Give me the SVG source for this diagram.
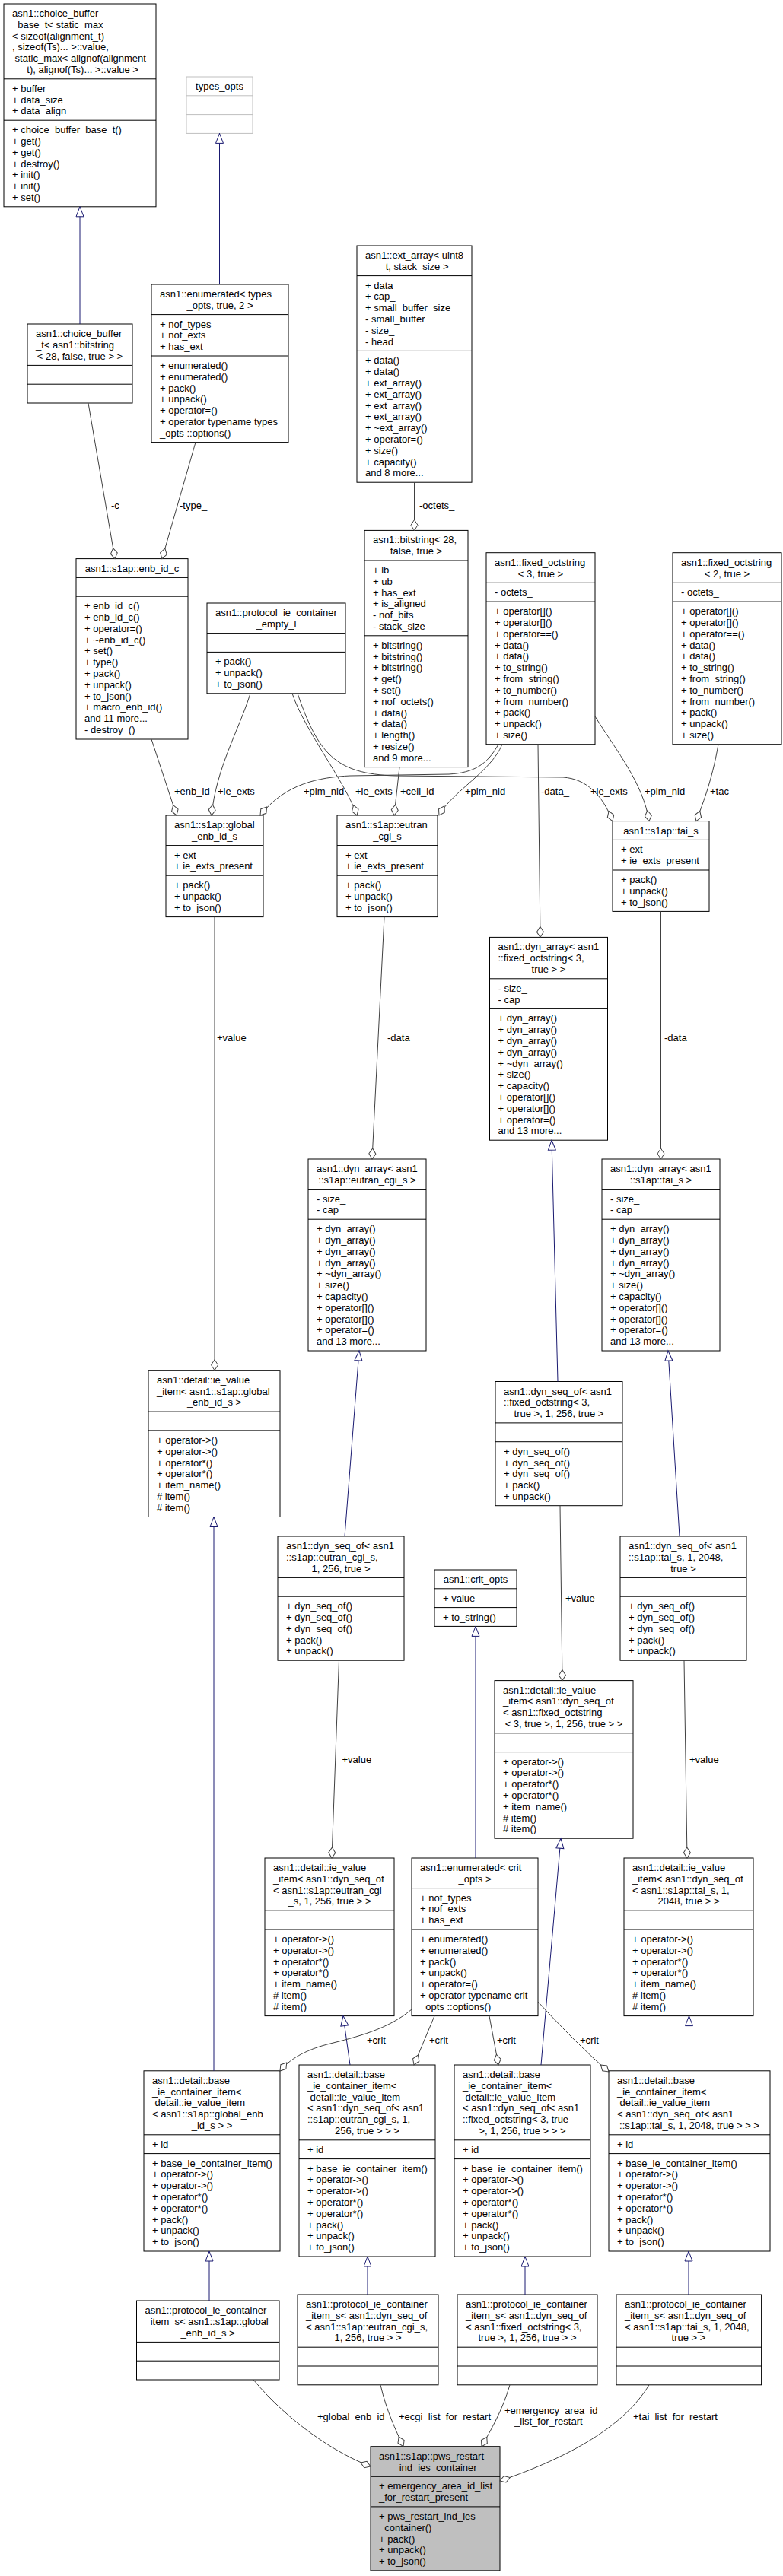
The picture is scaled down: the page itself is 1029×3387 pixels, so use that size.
<svg xmlns="http://www.w3.org/2000/svg" width="1029" height="3387" viewBox="0 0 1029 3387">
<style>
.b{fill:#fff;stroke:#000;stroke-width:1}
.g{fill:#bfbfbf;stroke:#000;stroke-width:1}
.s{fill:none;stroke:#000;stroke-width:1}
.lt{fill:#fff;stroke:#bfbfbf;stroke-width:1}
.ls{fill:none;stroke:#bfbfbf;stroke-width:1}
text{font-family:"Liberation Sans",Arial,Helvetica,sans-serif;font-size:13px;fill:#000}
.c{text-anchor:middle}
.e{fill:none;stroke:#404040;stroke-width:1;marker-end:url(#dia)}
.i{fill:none;stroke:#191970;stroke-width:1;marker-end:url(#tri)}
</style>
<defs>
<marker id="dia" markerUnits="userSpaceOnUse" markerWidth="18" markerHeight="12" refX="16" refY="6" orient="auto" viewBox="0 0 18 12"><path d="M2,6 L9,1.5 L16,6 L9,10.5 Z" fill="#fff" stroke="#404040" stroke-width="1"/></marker>
<marker id="tri" markerUnits="userSpaceOnUse" markerWidth="17" markerHeight="14" refX="15" refY="7" orient="auto" viewBox="0 0 17 14"><path d="M2,2 L15,7 L2,12 Z" fill="#fff" stroke="#191970" stroke-width="1"/></marker>
</defs>
<rect x="0" y="0" width="1029" height="3387" fill="#fff"/>
<g id="nodes">
<g id="choice_buffer_base">
<rect class="b" x="5" y="5" width="200" height="266.8"/>
<path class="s" d="M5,103.8H205M5,158.2H205"/>
<text x="16" y="22">asn1::choice_buffer<tspan x="16" dy="14.8">_base_t&lt; static_max</tspan><tspan x="16" dy="14.8">&lt; sizeof(alignment_t)</tspan><tspan x="16" dy="14.8">, sizeof(Ts)... &gt;::value,</tspan><tspan x="19.6" dy="14.8">static_max&lt; alignof(alignment</tspan></text>
<text class="c" x="105" y="96">_t), alignof(Ts)... &gt;::value &gt;</text>
<text x="16" y="120.8">+ buffer<tspan x="16" dy="14.8">+ data_size</tspan><tspan x="16" dy="14.8">+ data_align</tspan></text>
<text x="16" y="175.2">+ choice_buffer_base_t()<tspan x="16" dy="14.8">+ get()</tspan><tspan x="16" dy="14.8">+ get()</tspan><tspan x="16" dy="14.8">+ destroy()</tspan><tspan x="16" dy="14.8">+ init()</tspan><tspan x="16" dy="14.8">+ init()</tspan><tspan x="16" dy="14.8">+ set()</tspan></text>
</g>
<g id="types_opts">
<rect class="lt" x="245" y="101" width="87" height="74.4"/>
<path class="ls" d="M245,125.8H332M245,150.6H332"/>
<text class="c" x="288.5" y="118">types_opts</text>
</g>
<g id="enumerated_types_opts">
<rect class="b" x="199" y="374" width="180" height="207.6"/>
<path class="s" d="M199,413.6H379M199,468H379"/>
<text x="210" y="391">asn1::enumerated&lt; types</text>
<text class="c" x="289" y="405.8">_opts, true, 2 &gt;</text>
<text x="210" y="430.6">+ nof_types<tspan x="210" dy="14.8">+ nof_exts</tspan><tspan x="210" dy="14.8">+ has_ext</tspan></text>
<text x="210" y="485">+ enumerated()<tspan x="210" dy="14.8">+ enumerated()</tspan><tspan x="210" dy="14.8">+ pack()</tspan><tspan x="210" dy="14.8">+ unpack()</tspan><tspan x="210" dy="14.8">+ operator=()</tspan><tspan x="210" dy="14.8">+ operator typename types</tspan><tspan x="210" dy="14.8">_opts ::options()</tspan></text>
</g>
<g id="choice_buffer_t">
<rect class="b" x="36" y="426" width="138" height="104"/>
<path class="s" d="M36,480.4H174M36,505.2H174"/>
<text x="47" y="443">asn1::choice_buffer<tspan x="47" dy="14.8">_t&lt; asn1::bitstring</tspan></text>
<text class="c" x="105" y="472.6">&lt; 28, false, true &gt; &gt;</text>
</g>
<g id="ext_array">
<rect class="b" x="469" y="323" width="151" height="311.2"/>
<path class="s" d="M469,362.6H620M469,461.4H620"/>
<text x="480" y="340">asn1::ext_array&lt; uint8</text>
<text class="c" x="544.5" y="354.8">_t, stack_size &gt;</text>
<text x="480" y="379.6">+ data<tspan x="480" dy="14.8">+ cap_</tspan><tspan x="480" dy="14.8">+ small_buffer_size</tspan><tspan x="480" dy="14.8">- small_buffer</tspan><tspan x="480" dy="14.8">- size_</tspan><tspan x="480" dy="14.8">- head</tspan></text>
<text x="480" y="478.4">+ data()<tspan x="480" dy="14.8">+ data()</tspan><tspan x="480" dy="14.8">+ ext_array()</tspan><tspan x="480" dy="14.8">+ ext_array()</tspan><tspan x="480" dy="14.8">+ ext_array()</tspan><tspan x="480" dy="14.8">+ ext_array()</tspan><tspan x="480" dy="14.8">+ ~ext_array()</tspan><tspan x="480" dy="14.8">+ operator=()</tspan><tspan x="480" dy="14.8">+ size()</tspan><tspan x="480" dy="14.8">+ capacity()</tspan><tspan x="480" dy="14.8">and 8 more...</tspan></text>
</g>
<g id="enb_id_c">
<rect class="b" x="100" y="734.6" width="147" height="237.4"/>
<path class="s" d="M100,759.4H247M100,784.2H247"/>
<text class="c" x="173.5" y="751.6">asn1::s1ap::enb_id_c</text>
<text x="111" y="801.2">+ enb_id_c()<tspan x="111" dy="14.8">+ enb_id_c()</tspan><tspan x="111" dy="14.8">+ operator=()</tspan><tspan x="111" dy="14.8">+ ~enb_id_c()</tspan><tspan x="111" dy="14.8">+ set()</tspan><tspan x="111" dy="14.8">+ type()</tspan><tspan x="111" dy="14.8">+ pack()</tspan><tspan x="111" dy="14.8">+ unpack()</tspan><tspan x="111" dy="14.8">+ to_json()</tspan><tspan x="111" dy="14.8">+ macro_enb_id()</tspan><tspan x="111" dy="14.8">and 11 more...</tspan><tspan x="111" dy="14.8">- destroy_()</tspan></text>
</g>
<g id="protocol_ie_container_empty_l">
<rect class="b" x="272" y="793" width="182" height="118.8"/>
<path class="s" d="M272,832.6H454M272,857.4H454"/>
<text x="283" y="810">asn1::protocol_ie_container</text>
<text class="c" x="363" y="824.8">_empty_l</text>
<text x="283" y="874.4">+ pack()<tspan x="283" dy="14.8">+ unpack()</tspan><tspan x="283" dy="14.8">+ to_json()</tspan></text>
</g>
<g id="bitstring">
<rect class="b" x="479" y="697.4" width="136" height="311.2"/>
<path class="s" d="M479,737H615M479,835.8H615"/>
<text x="490" y="714.4">asn1::bitstring&lt; 28,</text>
<text class="c" x="547" y="729.2">false, true &gt;</text>
<text x="490" y="754">+ lb<tspan x="490" dy="14.8">+ ub</tspan><tspan x="490" dy="14.8">+ has_ext</tspan><tspan x="490" dy="14.8">+ is_aligned</tspan><tspan x="490" dy="14.8">- nof_bits</tspan><tspan x="490" dy="14.8">- stack_size</tspan></text>
<text x="490" y="852.8">+ bitstring()<tspan x="490" dy="14.8">+ bitstring()</tspan><tspan x="490" dy="14.8">+ bitstring()</tspan><tspan x="490" dy="14.8">+ get()</tspan><tspan x="490" dy="14.8">+ set()</tspan><tspan x="490" dy="14.8">+ nof_octets()</tspan><tspan x="490" dy="14.8">+ data()</tspan><tspan x="490" dy="14.8">+ data()</tspan><tspan x="490" dy="14.8">+ length()</tspan><tspan x="490" dy="14.8">+ resize()</tspan><tspan x="490" dy="14.8">and 9 more...</tspan></text>
</g>
<g id="fixed_octstring_3">
<rect class="b" x="639" y="726.7" width="143" height="252"/>
<path class="s" d="M639,766.3H782M639,791.1H782"/>
<text x="650" y="743.7">asn1::fixed_octstring</text>
<text class="c" x="710.5" y="758.5">&lt; 3, true &gt;</text>
<text x="650" y="783.3">- octets_</text>
<text x="650" y="808.1">+ operator[]()<tspan x="650" dy="14.8">+ operator[]()</tspan><tspan x="650" dy="14.8">+ operator==()</tspan><tspan x="650" dy="14.8">+ data()</tspan><tspan x="650" dy="14.8">+ data()</tspan><tspan x="650" dy="14.8">+ to_string()</tspan><tspan x="650" dy="14.8">+ from_string()</tspan><tspan x="650" dy="14.8">+ to_number()</tspan><tspan x="650" dy="14.8">+ from_number()</tspan><tspan x="650" dy="14.8">+ pack()</tspan><tspan x="650" dy="14.8">+ unpack()</tspan><tspan x="650" dy="14.8">+ size()</tspan></text>
</g>
<g id="fixed_octstring_2">
<rect class="b" x="884" y="726.7" width="143" height="252"/>
<path class="s" d="M884,766.3H1027M884,791.1H1027"/>
<text x="895" y="743.7">asn1::fixed_octstring</text>
<text class="c" x="955.5" y="758.5">&lt; 2, true &gt;</text>
<text x="895" y="783.3">- octets_</text>
<text x="895" y="808.1">+ operator[]()<tspan x="895" dy="14.8">+ operator[]()</tspan><tspan x="895" dy="14.8">+ operator==()</tspan><tspan x="895" dy="14.8">+ data()</tspan><tspan x="895" dy="14.8">+ data()</tspan><tspan x="895" dy="14.8">+ to_string()</tspan><tspan x="895" dy="14.8">+ from_string()</tspan><tspan x="895" dy="14.8">+ to_number()</tspan><tspan x="895" dy="14.8">+ from_number()</tspan><tspan x="895" dy="14.8">+ pack()</tspan><tspan x="895" dy="14.8">+ unpack()</tspan><tspan x="895" dy="14.8">+ size()</tspan></text>
</g>
<g id="global_enb_id_s">
<rect class="b" x="218" y="1072" width="128" height="133.6"/>
<path class="s" d="M218,1111.6H346M218,1151.2H346"/>
<text x="229" y="1089">asn1::s1ap::global</text>
<text class="c" x="282" y="1103.8">_enb_id_s</text>
<text x="229" y="1128.6">+ ext<tspan x="229" dy="14.8">+ ie_exts_present</tspan></text>
<text x="229" y="1168.2">+ pack()<tspan x="229" dy="14.8">+ unpack()</tspan><tspan x="229" dy="14.8">+ to_json()</tspan></text>
</g>
<g id="eutran_cgi_s">
<rect class="b" x="443" y="1072" width="132" height="133.6"/>
<path class="s" d="M443,1111.6H575M443,1151.2H575"/>
<text x="454" y="1089">asn1::s1ap::eutran</text>
<text class="c" x="509" y="1103.8">_cgi_s</text>
<text x="454" y="1128.6">+ ext<tspan x="454" dy="14.8">+ ie_exts_present</tspan></text>
<text x="454" y="1168.2">+ pack()<tspan x="454" dy="14.8">+ unpack()</tspan><tspan x="454" dy="14.8">+ to_json()</tspan></text>
</g>
<g id="tai_s">
<rect class="b" x="805" y="1079.6" width="127" height="118.8"/>
<path class="s" d="M805,1104.4H932M805,1144H932"/>
<text class="c" x="868.5" y="1096.6">asn1::s1ap::tai_s</text>
<text x="816" y="1121.4">+ ext<tspan x="816" dy="14.8">+ ie_exts_present</tspan></text>
<text x="816" y="1161">+ pack()<tspan x="816" dy="14.8">+ unpack()</tspan><tspan x="816" dy="14.8">+ to_json()</tspan></text>
</g>
<g id="dyn_array_fixed_octstring">
<rect class="b" x="643.5" y="1232.4" width="155" height="266.8"/>
<path class="s" d="M643.5,1286.8H798.5M643.5,1326.4H798.5"/>
<text x="654.5" y="1249.4">asn1::dyn_array&lt; asn1<tspan x="654.5" dy="14.8">::fixed_octstring&lt; 3,</tspan></text>
<text class="c" x="721" y="1279">true &gt; &gt;</text>
<text x="654.5" y="1303.8">- size_<tspan x="654.5" dy="14.8">- cap_</tspan></text>
<text x="654.5" y="1343.4">+ dyn_array()<tspan x="654.5" dy="14.8">+ dyn_array()</tspan><tspan x="654.5" dy="14.8">+ dyn_array()</tspan><tspan x="654.5" dy="14.8">+ dyn_array()</tspan><tspan x="654.5" dy="14.8">+ ~dyn_array()</tspan><tspan x="654.5" dy="14.8">+ size()</tspan><tspan x="654.5" dy="14.8">+ capacity()</tspan><tspan x="654.5" dy="14.8">+ operator[]()</tspan><tspan x="654.5" dy="14.8">+ operator[]()</tspan><tspan x="654.5" dy="14.8">+ operator=()</tspan><tspan x="654.5" dy="14.8">and 13 more...</tspan></text>
</g>
<g id="dyn_array_eutran_cgi_s">
<rect class="b" x="405" y="1524" width="155" height="252"/>
<path class="s" d="M405,1563.6H560M405,1603.2H560"/>
<text x="416" y="1541">asn1::dyn_array&lt; asn1</text>
<text class="c" x="482.5" y="1555.8">::s1ap::eutran_cgi_s &gt;</text>
<text x="416" y="1580.6">- size_<tspan x="416" dy="14.8">- cap_</tspan></text>
<text x="416" y="1620.2">+ dyn_array()<tspan x="416" dy="14.8">+ dyn_array()</tspan><tspan x="416" dy="14.8">+ dyn_array()</tspan><tspan x="416" dy="14.8">+ dyn_array()</tspan><tspan x="416" dy="14.8">+ ~dyn_array()</tspan><tspan x="416" dy="14.8">+ size()</tspan><tspan x="416" dy="14.8">+ capacity()</tspan><tspan x="416" dy="14.8">+ operator[]()</tspan><tspan x="416" dy="14.8">+ operator[]()</tspan><tspan x="416" dy="14.8">+ operator=()</tspan><tspan x="416" dy="14.8">and 13 more...</tspan></text>
</g>
<g id="dyn_array_tai_s">
<rect class="b" x="791" y="1524" width="155" height="252"/>
<path class="s" d="M791,1563.6H946M791,1603.2H946"/>
<text x="802" y="1541">asn1::dyn_array&lt; asn1</text>
<text class="c" x="868.5" y="1555.8">::s1ap::tai_s &gt;</text>
<text x="802" y="1580.6">- size_<tspan x="802" dy="14.8">- cap_</tspan></text>
<text x="802" y="1620.2">+ dyn_array()<tspan x="802" dy="14.8">+ dyn_array()</tspan><tspan x="802" dy="14.8">+ dyn_array()</tspan><tspan x="802" dy="14.8">+ dyn_array()</tspan><tspan x="802" dy="14.8">+ ~dyn_array()</tspan><tspan x="802" dy="14.8">+ size()</tspan><tspan x="802" dy="14.8">+ capacity()</tspan><tspan x="802" dy="14.8">+ operator[]()</tspan><tspan x="802" dy="14.8">+ operator[]()</tspan><tspan x="802" dy="14.8">+ operator=()</tspan><tspan x="802" dy="14.8">and 13 more...</tspan></text>
</g>
<g id="ie_value_item_global_enb_id_s">
<rect class="b" x="195" y="1801.7" width="173" height="192.8"/>
<path class="s" d="M195,1856.1H368M195,1880.9H368"/>
<text x="206" y="1818.7">asn1::detail::ie_value<tspan x="206" dy="14.8">_item&lt; asn1::s1ap::global</tspan></text>
<text class="c" x="281.5" y="1848.3">_enb_id_s &gt;</text>
<text x="206" y="1897.9">+ operator-&gt;()<tspan x="206" dy="14.8">+ operator-&gt;()</tspan><tspan x="206" dy="14.8">+ operator*()</tspan><tspan x="206" dy="14.8">+ operator*()</tspan><tspan x="206" dy="14.8">+ item_name()</tspan><tspan x="206" dy="14.8"># item()</tspan><tspan x="206" dy="14.8"># item()</tspan></text>
</g>
<g id="dyn_seq_of_fixed_octstring">
<rect class="b" x="651" y="1816.5" width="167" height="163.2"/>
<path class="s" d="M651,1870.9H818M651,1895.7H818"/>
<text x="662" y="1833.5">asn1::dyn_seq_of&lt; asn1<tspan x="662" dy="14.8">::fixed_octstring&lt; 3,</tspan></text>
<text class="c" x="734.5" y="1863.1">true &gt;, 1, 256, true &gt;</text>
<text x="662" y="1912.7">+ dyn_seq_of()<tspan x="662" dy="14.8">+ dyn_seq_of()</tspan><tspan x="662" dy="14.8">+ dyn_seq_of()</tspan><tspan x="662" dy="14.8">+ pack()</tspan><tspan x="662" dy="14.8">+ unpack()</tspan></text>
</g>
<g id="dyn_seq_of_eutran_cgi_s">
<rect class="b" x="365" y="2020" width="166" height="163.2"/>
<path class="s" d="M365,2074.4H531M365,2099.2H531"/>
<text x="376" y="2037">asn1::dyn_seq_of&lt; asn1<tspan x="376" dy="14.8">::s1ap::eutran_cgi_s,</tspan></text>
<text class="c" x="448" y="2066.6">1, 256, true &gt;</text>
<text x="376" y="2116.2">+ dyn_seq_of()<tspan x="376" dy="14.8">+ dyn_seq_of()</tspan><tspan x="376" dy="14.8">+ dyn_seq_of()</tspan><tspan x="376" dy="14.8">+ pack()</tspan><tspan x="376" dy="14.8">+ unpack()</tspan></text>
</g>
<g id="dyn_seq_of_tai_s">
<rect class="b" x="815" y="2020" width="166" height="163.2"/>
<path class="s" d="M815,2074.4H981M815,2099.2H981"/>
<text x="826" y="2037">asn1::dyn_seq_of&lt; asn1<tspan x="826" dy="14.8">::s1ap::tai_s, 1, 2048,</tspan></text>
<text class="c" x="898" y="2066.6">true &gt;</text>
<text x="826" y="2116.2">+ dyn_seq_of()<tspan x="826" dy="14.8">+ dyn_seq_of()</tspan><tspan x="826" dy="14.8">+ dyn_seq_of()</tspan><tspan x="826" dy="14.8">+ pack()</tspan><tspan x="826" dy="14.8">+ unpack()</tspan></text>
</g>
<g id="crit_opts">
<rect class="b" x="571" y="2064" width="108" height="74.4"/>
<path class="s" d="M571,2088.8H679M571,2113.6H679"/>
<text class="c" x="625" y="2081">asn1::crit_opts</text>
<text x="582" y="2105.8">+ value</text>
<text x="582" y="2130.6">+ to_string()</text>
</g>
<g id="ie_value_item_seq_fixed_octstring">
<rect class="b" x="650" y="2209.6" width="182" height="207.6"/>
<path class="s" d="M650,2278.8H832M650,2303.6H832"/>
<text x="661" y="2226.6">asn1::detail::ie_value<tspan x="661" dy="14.8">_item&lt; asn1::dyn_seq_of</tspan><tspan x="661" dy="14.8">&lt; asn1::fixed_octstring</tspan></text>
<text class="c" x="741" y="2271">&lt; 3, true &gt;, 1, 256, true &gt; &gt;</text>
<text x="661" y="2320.6">+ operator-&gt;()<tspan x="661" dy="14.8">+ operator-&gt;()</tspan><tspan x="661" dy="14.8">+ operator*()</tspan><tspan x="661" dy="14.8">+ operator*()</tspan><tspan x="661" dy="14.8">+ item_name()</tspan><tspan x="661" dy="14.8"># item()</tspan><tspan x="661" dy="14.8"># item()</tspan></text>
</g>
<g id="ie_value_item_seq_eutran_cgi_s">
<rect class="b" x="348" y="2443" width="170" height="207.6"/>
<path class="s" d="M348,2512.2H518M348,2537H518"/>
<text x="359" y="2460">asn1::detail::ie_value<tspan x="359" dy="14.8">_item&lt; asn1::dyn_seq_of</tspan><tspan x="359" dy="14.8">&lt; asn1::s1ap::eutran_cgi</tspan></text>
<text class="c" x="433" y="2504.4">_s, 1, 256, true &gt; &gt;</text>
<text x="359" y="2554">+ operator-&gt;()<tspan x="359" dy="14.8">+ operator-&gt;()</tspan><tspan x="359" dy="14.8">+ operator*()</tspan><tspan x="359" dy="14.8">+ operator*()</tspan><tspan x="359" dy="14.8">+ item_name()</tspan><tspan x="359" dy="14.8"># item()</tspan><tspan x="359" dy="14.8"># item()</tspan></text>
</g>
<g id="enumerated_crit_opts">
<rect class="b" x="541" y="2443" width="166" height="207.6"/>
<path class="s" d="M541,2482.6H707M541,2537H707"/>
<text x="552" y="2460">asn1::enumerated&lt; crit</text>
<text class="c" x="624" y="2474.8">_opts &gt;</text>
<text x="552" y="2499.6">+ nof_types<tspan x="552" dy="14.8">+ nof_exts</tspan><tspan x="552" dy="14.8">+ has_ext</tspan></text>
<text x="552" y="2554">+ enumerated()<tspan x="552" dy="14.8">+ enumerated()</tspan><tspan x="552" dy="14.8">+ pack()</tspan><tspan x="552" dy="14.8">+ unpack()</tspan><tspan x="552" dy="14.8">+ operator=()</tspan><tspan x="552" dy="14.8">+ operator typename crit</tspan><tspan x="552" dy="14.8">_opts ::options()</tspan></text>
</g>
<g id="ie_value_item_seq_tai_s">
<rect class="b" x="820" y="2443" width="170" height="207.6"/>
<path class="s" d="M820,2512.2H990M820,2537H990"/>
<text x="831" y="2460">asn1::detail::ie_value<tspan x="831" dy="14.8">_item&lt; asn1::dyn_seq_of</tspan><tspan x="831" dy="14.8">&lt; asn1::s1ap::tai_s, 1,</tspan></text>
<text class="c" x="905" y="2504.4">2048, true &gt; &gt;</text>
<text x="831" y="2554">+ operator-&gt;()<tspan x="831" dy="14.8">+ operator-&gt;()</tspan><tspan x="831" dy="14.8">+ operator*()</tspan><tspan x="831" dy="14.8">+ operator*()</tspan><tspan x="831" dy="14.8">+ item_name()</tspan><tspan x="831" dy="14.8"># item()</tspan><tspan x="831" dy="14.8"># item()</tspan></text>
</g>
<g id="base_ie_container_item_global">
<rect class="b" x="189" y="2722.8" width="179" height="237.2"/>
<path class="s" d="M189,2806.8H368M189,2831.6H368"/>
<text x="200" y="2739.8">asn1::detail::base<tspan x="200" dy="14.8">_ie_container_item&lt;</tspan><tspan x="203.6" dy="14.8">detail::ie_value_item</tspan><tspan x="200" dy="14.8">&lt; asn1::s1ap::global_enb</tspan></text>
<text class="c" x="278.5" y="2799">_id_s &gt; &gt;</text>
<text x="200" y="2823.8">+ id</text>
<text x="200" y="2848.6">+ base_ie_container_item()<tspan x="200" dy="14.8">+ operator-&gt;()</tspan><tspan x="200" dy="14.8">+ operator-&gt;()</tspan><tspan x="200" dy="14.8">+ operator*()</tspan><tspan x="200" dy="14.8">+ operator*()</tspan><tspan x="200" dy="14.8">+ pack()</tspan><tspan x="200" dy="14.8">+ unpack()</tspan><tspan x="200" dy="14.8">+ to_json()</tspan></text>
</g>
<g id="base_ie_container_item_eutran">
<rect class="b" x="393" y="2715" width="179" height="252"/>
<path class="s" d="M393,2813.8H572M393,2838.6H572"/>
<text x="404" y="2732">asn1::detail::base<tspan x="404" dy="14.8">_ie_container_item&lt;</tspan><tspan x="407.6" dy="14.8">detail::ie_value_item</tspan><tspan x="404" dy="14.8">&lt; asn1::dyn_seq_of&lt; asn1</tspan><tspan x="404" dy="14.8">::s1ap::eutran_cgi_s, 1,</tspan></text>
<text class="c" x="482.5" y="2806">256, true &gt; &gt; &gt;</text>
<text x="404" y="2830.6">+ id</text>
<text x="404" y="2855.6">+ base_ie_container_item()<tspan x="404" dy="14.8">+ operator-&gt;()</tspan><tspan x="404" dy="14.8">+ operator-&gt;()</tspan><tspan x="404" dy="14.8">+ operator*()</tspan><tspan x="404" dy="14.8">+ operator*()</tspan><tspan x="404" dy="14.8">+ pack()</tspan><tspan x="404" dy="14.8">+ unpack()</tspan><tspan x="404" dy="14.8">+ to_json()</tspan></text>
</g>
<g id="base_ie_container_item_fixed">
<rect class="b" x="597" y="2715" width="179" height="252"/>
<path class="s" d="M597,2813.8H776M597,2838.6H776"/>
<text x="608" y="2732">asn1::detail::base<tspan x="608" dy="14.8">_ie_container_item&lt;</tspan><tspan x="611.6" dy="14.8">detail::ie_value_item</tspan><tspan x="608" dy="14.8">&lt; asn1::dyn_seq_of&lt; asn1</tspan><tspan x="608" dy="14.8">::fixed_octstring&lt; 3, true</tspan></text>
<text class="c" x="686.5" y="2806">&gt;, 1, 256, true &gt; &gt; &gt;</text>
<text x="608" y="2830.6">+ id</text>
<text x="608" y="2855.6">+ base_ie_container_item()<tspan x="608" dy="14.8">+ operator-&gt;()</tspan><tspan x="608" dy="14.8">+ operator-&gt;()</tspan><tspan x="608" dy="14.8">+ operator*()</tspan><tspan x="608" dy="14.8">+ operator*()</tspan><tspan x="608" dy="14.8">+ pack()</tspan><tspan x="608" dy="14.8">+ unpack()</tspan><tspan x="608" dy="14.8">+ to_json()</tspan></text>
</g>
<g id="base_ie_container_item_tai">
<rect class="b" x="800" y="2722.8" width="212" height="237.2"/>
<path class="s" d="M800,2806.8H1012M800,2831.6H1012"/>
<text x="811" y="2739.8">asn1::detail::base<tspan x="811" dy="14.8">_ie_container_item&lt;</tspan><tspan x="814.6" dy="14.8">detail::ie_value_item</tspan><tspan x="811" dy="14.8">&lt; asn1::dyn_seq_of&lt; asn1</tspan></text>
<text class="c" x="906" y="2799">::s1ap::tai_s, 1, 2048, true &gt; &gt; &gt;</text>
<text x="811" y="2823.8">+ id</text>
<text x="811" y="2848.6">+ base_ie_container_item()<tspan x="811" dy="14.8">+ operator-&gt;()</tspan><tspan x="811" dy="14.8">+ operator-&gt;()</tspan><tspan x="811" dy="14.8">+ operator*()</tspan><tspan x="811" dy="14.8">+ operator*()</tspan><tspan x="811" dy="14.8">+ pack()</tspan><tspan x="811" dy="14.8">+ unpack()</tspan><tspan x="811" dy="14.8">+ to_json()</tspan></text>
</g>
<g id="protocol_ie_container_item_global">
<rect class="b" x="179.5" y="3025" width="187.5" height="104"/>
<path class="s" d="M179.5,3079.4H367M179.5,3104.2H367"/>
<text x="190.5" y="3042">asn1::protocol_ie_container<tspan x="190.5" dy="14.8">_item_s&lt; asn1::s1ap::global</tspan></text>
<text class="c" x="273" y="3071.6">_enb_id_s &gt;</text>
</g>
<g id="protocol_ie_container_item_eutran">
<rect class="b" x="391" y="3017" width="185" height="118.8"/>
<path class="s" d="M391,3086.2H576M391,3111H576"/>
<text x="402" y="3034">asn1::protocol_ie_container<tspan x="402" dy="14.8">_item_s&lt; asn1::dyn_seq_of</tspan><tspan x="402" dy="14.8">&lt; asn1::s1ap::eutran_cgi_s,</tspan></text>
<text class="c" x="483.5" y="3078.4">1, 256, true &gt; &gt;</text>
</g>
<g id="protocol_ie_container_item_fixed">
<rect class="b" x="601" y="3017" width="184" height="118.8"/>
<path class="s" d="M601,3086.2H785M601,3111H785"/>
<text x="612" y="3034">asn1::protocol_ie_container<tspan x="612" dy="14.8">_item_s&lt; asn1::dyn_seq_of</tspan><tspan x="612" dy="14.8">&lt; asn1::fixed_octstring&lt; 3,</tspan></text>
<text class="c" x="693" y="3078.4">true &gt;, 1, 256, true &gt; &gt;</text>
</g>
<g id="protocol_ie_container_item_tai">
<rect class="b" x="810" y="3017" width="190.6" height="118.8"/>
<path class="s" d="M810,3086.2H1000.6M810,3111H1000.6"/>
<text x="821" y="3034">asn1::protocol_ie_container<tspan x="821" dy="14.8">_item_s&lt; asn1::dyn_seq_of</tspan><tspan x="821" dy="14.8">&lt; asn1::s1ap::tai_s, 1, 2048,</tspan></text>
<text class="c" x="905" y="3078.4">true &gt; &gt;</text>
</g>
<g id="pws_restart_ind_ies_container">
<rect class="g" x="487" y="3216.7" width="170" height="163.2"/>
<path class="s" d="M487,3256.3H657M487,3295.9H657"/>
<text x="498" y="3233.7">asn1::s1ap::pws_restart</text>
<text class="c" x="572" y="3248.5">_ind_ies_container</text>
<text x="498" y="3273.3">+ emergency_area_id_list<tspan x="498" dy="14.8">_for_restart_present</tspan></text>
<text x="498" y="3312.9">+ pws_restart_ind_ies<tspan x="498" dy="14.8">_container()</tspan><tspan x="498" dy="14.8">+ pack()</tspan><tspan x="498" dy="14.8">+ unpack()</tspan><tspan x="498" dy="14.8">+ to_json()</tspan></text>
</g>
</g>
<g id="connectors">
<path class="i" d="M105,426 L105,271.8"/>
<path class="i" d="M288.5,374 L288.5,175.4"/>
<path class="e" d="M116,530 L151,734.6"/>
<text x="146" y="669">-c</text>
<path class="e" d="M257,581.6 L213,734.6"/>
<text x="236" y="669">-type_</text>
<path class="e" d="M544.5,634.2 L544.5,697.4"/>
<text x="551" y="669">-octets_</text>
<path class="e" d="M199,972 L232,1072"/>
<text x="229" y="1044.5">+enb_id</text>
<path class="e" d="M329,911.8 C314,960 284,1010 278,1072"/>
<text x="286" y="1044.5">+ie_exts</text>
<path class="e" d="M655,978.7 C640,1006 622,1016 590,1018 L460,1020 C420,1022 375,1030 342,1072"/>
<text x="399" y="1044.5">+plm_nid</text>
<path class="e" d="M384,911.8 C400,960 455,1030 469,1072"/>
<text x="467" y="1044.5">+ie_exts</text>
<path class="e" d="M525,1008.6 L518,1072"/>
<text x="526" y="1044.5">+cell_id</text>
<path class="e" d="M660,978.7 C645,1015 595,1040 577,1072"/>
<text x="611" y="1044.5">+plm_nid</text>
<path class="e" d="M391,911.8 C418,990 440,1018 520,1020 L740,1022 C770,1024 792,1045 805,1079.6"/>
<text x="776" y="1044.5">+ie_exts</text>
<path class="e" d="M707,978.7 L710,1232.4"/>
<text x="711" y="1044.5">-data_</text>
<path class="e" d="M782,942 C812,990 845,1030 853,1079.6"/>
<text x="847" y="1044.5">+plm_nid</text>
<path class="e" d="M944,978.7 C935,1030 922,1060 915,1079.6"/>
<text x="933" y="1044.5">+tac</text>
<path class="e" d="M282,1205.6 L282,1801.7"/>
<text x="285" y="1369">+value</text>
<path class="e" d="M505,1205.6 L489,1524"/>
<text x="509" y="1369">-data_</text>
<path class="e" d="M868.5,1198.4 L868.5,1524"/>
<text x="873" y="1369">-data_</text>
<path class="i" d="M733,1816.5 L725,1499.2"/>
<path class="i" d="M453,2020 L472,1776"/>
<path class="i" d="M893,2020 L878,1776"/>
<path class="i" d="M281,2722.8 L281,1994.5"/>
<path class="i" d="M625,2443 L625,2138.4"/>
<path class="e" d="M736,1979.7 L739,2209.6"/>
<text x="743" y="2106">+value</text>
<path class="e" d="M445.5,2183.2 L436,2443"/>
<text x="449.5" y="2317.5">+value</text>
<path class="e" d="M899,2183.2 L903,2443"/>
<text x="906" y="2317.5">+value</text>
<path class="i" d="M711,2715 L737,2417.2"/>
<path class="i" d="M460,2715 L451,2650.6"/>
<path class="i" d="M905.5,2722.8 L905.5,2650.6"/>
<path class="e" d="M541,2642 C510,2668 470,2678 430,2688 C400,2696 380,2708 368,2723"/>
<text x="482" y="2686.5">+crit</text>
<path class="e" d="M571,2650.6 L544,2715"/>
<text x="564" y="2686.5">+crit</text>
<path class="e" d="M643,2650.6 L655,2715"/>
<text x="653" y="2686.5">+crit</text>
<path class="e" d="M707,2632 C740,2668 772,2700 800,2724"/>
<text x="762" y="2686.5">+crit</text>
<path class="i" d="M275,3025 L275,2960"/>
<path class="i" d="M483,3017 L483,2967"/>
<path class="i" d="M690,3017 L690,2967"/>
<path class="i" d="M905,3017 L905,2960"/>
<path class="e" d="M333,3129 C380,3185 440,3225 487,3243"/>
<text x="417" y="3181.5">+global_enb_id</text>
<path class="e" d="M500,3135.8 C508,3170 520,3195 530,3216.7"/>
<text x="524" y="3181.5">+ecgi_list_for_restart</text>
<path class="e" d="M670,3135.8 C660,3170 645,3195 633,3216.7"/>
<text x="663" y="3173.5">+emergency_area_id</text>
<text x="676" y="3188">_list_for_restart</text>
<path class="e" d="M853,3135.8 C820,3190 750,3230 657,3262"/>
<text x="832" y="3181.5">+tai_list_for_restart</text>
</g>
</svg>
